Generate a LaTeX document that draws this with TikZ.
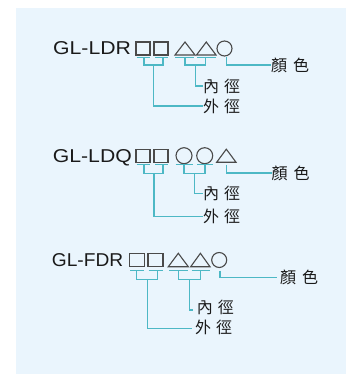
\documentclass[tikz,border=0pt]{standalone}
\usepackage{fontspec}
\setmainfont{Liberation Sans}
\newfontfamily\cjk{Noto Sans CJK TC}
\definecolor{panel}{HTML}{EAF5FD}
\definecolor{lead}{HTML}{4DB8C5}
\definecolor{symg}{HTML}{4A4A4A}
\definecolor{ink}{HTML}{1A1A1A}
\begin{document}
\begin{tikzpicture}[x=1pt,y=-1pt,
  code/.style={anchor=base west,inner sep=0pt,text=ink,font=\fontsize{18.6}{20}\selectfont},
  lab/.style={anchor=west,inner sep=0pt,text=ink,font=\cjk\fontsize{16}{18}\selectfont},
  sq/.style={draw=symg,line width=1.1pt,minimum width=14pt,minimum height=13pt,inner sep=0pt},
  circ/.style={draw=symg,line width=1.1pt,circle,inner sep=0pt},
  tri/.style={draw=symg,line width=1.1pt,line join=miter},
  leadline/.style={draw=lead,line width=1.2pt}]
\useasboundingbox (0,0) rectangle (347,374);
\fill[white] (0,0) rectangle (347,374);
\fill[panel] (16,8) rectangle (346,374);

% ---------- block 1 ----------
\node[code] (t1) at (53,54.5) {\scalebox{1.14}[1]{GL-LDR}};
\node[sq] (a1) at (143,48.5) {};
\node[sq] (a2) at (161,48.5) {};
\draw[tri] (175,55) -- (185,42) -- (195,55) -- cycle;
\draw[tri] (196.5,55) -- (206.3,42) -- (216,55) -- cycle;
\node[circ,minimum size=15pt] (a5) at (224.5,48.5) {};
\node[lab] (w1) at (203,106) {外\hspace{5pt}徑};
\node[lab] (n1) at (203,86) {內\hspace{5pt}徑};
\node[lab] (c1) at (271,65) {顏\hspace{6pt}色};
\draw[leadline] (136.5,57.5) -- (150,57.5) (155,57.5) -- (167.5,57.5);
\draw[leadline] (175,57.5) -- (194,57.5) (197,57.5) -- (215.5,57.5);
\draw[leadline] (144,57.5) -- (144,65) -- (163,65) -- (163,57.5);
\draw[leadline] (185,57.5) -- (185,65) -- (205.5,65) -- (205.5,57.5);
\draw[leadline] (153.5,65) |- (w1.west);
\draw[leadline] (195.5,65) |- (n1.west);
\draw[leadline] (226.7,57) |- (c1.west);

% ---------- block 2 ----------
\node[code] (t2) at (52.7,162.3) {\scalebox{1.14}[1]{GL-LDQ}};
\node[sq] (b1) at (143,155.7) {};
\node[sq] (b2) at (161,155.7) {};
\node[circ,minimum size=16pt] (b3) at (184,155.7) {};
\node[circ,minimum size=16pt] (b4) at (204.7,155.7) {};
\draw[tri] (216.7,162.2) -- (226.3,149.2) -- (236,162.2) -- cycle;
\node[lab] (w2) at (203,216.5) {外\hspace{5pt}徑};
\node[lab] (n2) at (203,193.5) {內\hspace{5pt}徑};
\node[lab] (c2) at (271.5,173) {顏\hspace{6pt}色};
\draw[leadline] (136.5,164.8) -- (150,164.8) (155,164.8) -- (167.5,164.8);
\draw[leadline] (175.5,164.8) -- (193,164.8) (197,164.8) -- (212.5,164.8);
\draw[leadline] (144,164.8) -- (144,173.3) -- (163,173.3) -- (163,164.8);
\draw[leadline] (184,164.8) -- (184,173.3) -- (205,173.3) -- (205,164.8);
\draw[leadline] (154,173.3) |- (w2.west);
\draw[leadline] (194.5,173.3) |- (n2.west);
\draw[leadline] (226.7,164.5) |- (c2.west);

% ---------- block 3 ----------
\node[code] (t3) at (51.7,266.7) {\scalebox{1.03}[1]{GL-FDR}};
\node[sq,minimum width=15pt,minimum height=13.4pt] (d1) at (137,260) {};
\node[sq,minimum width=15pt,minimum height=13.4pt] (d2) at (155.5,260) {};
\draw[tri] (168.3,266.7) -- (178.3,253.3) -- (188.3,266.7) -- cycle;
\draw[tri] (190.7,266.7) -- (200.4,253.3) -- (210,266.7) -- cycle;
\node[circ,minimum size=15pt] (d5) at (219.2,260) {};
\node[lab] (w3) at (195,327.5) {外\hspace{5pt}徑};
\node[lab] (n3) at (196.7,307) {內\hspace{5pt}徑};
\node[lab] (c3) at (280,277.5) {顏\hspace{6pt}色};
\draw[leadline] (130,270.7) -- (144,270.7) (148.5,270.7) -- (162.5,270.7);
\draw[leadline] (169,270.7) -- (187.5,270.7) (191.5,270.7) -- (209.5,270.7);
\draw[leadline] (136.7,270.7) -- (136.7,279.3) -- (157.3,279.3) -- (157.3,270.7);
\draw[leadline] (178.3,270.7) -- (178.3,279.3) -- (200.4,279.3) -- (200.4,270.7);
\draw[leadline] (147.3,279.3) |- (191.7,328.3);
\draw[leadline] (189.3,279.3) |- (193.3,310);
\draw[leadline] (220,270.7) |- (277.3,277.3);
\end{tikzpicture}
\end{document}
